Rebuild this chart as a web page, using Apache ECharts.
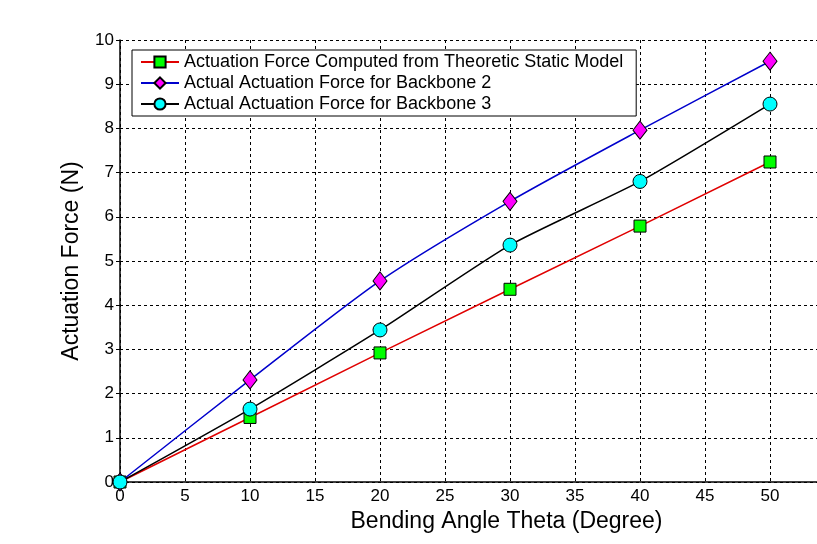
<!DOCTYPE html>
<html>
<head>
<meta charset="utf-8">
<script src="https://cdn.jsdelivr.net/npm/echarts@6/dist/echarts.min.js"></script>
<style>
  html, body { margin: 0; padding: 0; background: #fff; overflow: hidden; }
  #chart { width: 817px; height: 544px; }
</style>
</head>
<body>
<div id="chart"></div>
<script>
// bending angle (degree)
const angles = [0, 10, 20, 30, 40, 50];
// forces (N)
const theoreticForce = [0, 1.46, 2.92, 4.36, 5.79, 7.24];
const backbone2Force = [0, 2.31, 4.55, 6.35, 7.96, 9.52];
const backbone3Force = [0, 1.65, 3.44, 5.36, 6.8, 8.55];

const seriesNames = [
  "Actuation Force Computed from Theoretic Static Model",
  "Actual Actuation Force for Backbone 2",
  "Actual Actuation Force for Backbone 3",
];

const toPairs = (vals) => angles.map((a, i) => [a, vals[i]]);

const chart = echarts.init(document.getElementById("chart"));
const font = "Liberation Sans, Arial, Helvetica, sans-serif";
const gridLine = {
  show: true,
  lineStyle: { color: "#000", type: [3, 3], width: 1 },
};

chart.setOption({
  animation: false,
  backgroundColor: "#fff",
  textStyle: { fontFamily: font },
  // plot runs past the right edge of the picture
  grid: { left: 120, top: 40, bottom: 62, width: 715, outerBoundsMode: "none" },
  legend: {
    orient: "vertical",
    left: 132,
    top: 50,
    padding: [3, 13, 3, 8],
    itemGap: 3,
    itemWidth: 38,
    itemHeight: 14,
    backgroundColor: "#fff",
    borderColor: "#000",
    borderWidth: 1,
    borderRadius: 0,
    textStyle: { fontFamily: font, fontSize: 18, color: "#000" },
    data: seriesNames,
  },
  xAxis: {
    type: "value",
    min: 0,
    max: 55,
    interval: 5,
    name: "Bending Angle Theta (Degree)",
    nameLocation: "middle",
    nameGap: 24,
    nameTextStyle: { fontSize: 23, color: "#000", fontFamily: font, padding: [0, 0, 0, 58] },
    axisLine: { show: true, lineStyle: { color: "#000", width: 1.5 } },
    axisTick: { show: false },
    axisLabel: { color: "#000", fontSize: 17, margin: 6, showMaxLabel: false },
    splitLine: gridLine,
  },
  yAxis: {
    type: "value",
    min: 0,
    max: 10,
    interval: 1,
    name: "Actuation Force (N)",
    nameLocation: "middle",
    nameGap: 37,
    nameTextStyle: { fontSize: 23, color: "#000", fontFamily: font },
    axisLine: { show: true, lineStyle: { color: "#000", width: 1.5 } },
    axisTick: { show: true, inside: false, length: 4, lineStyle: { color: "#000" } },
    axisLabel: { color: "#000", fontSize: 17, margin: 6 },
    splitLine: gridLine,
  },
  series: [
    {
      name: seriesNames[0],
      type: "line",
      data: toPairs(theoreticForce),
      lineStyle: { color: "#e00000", width: 1.5 },
      symbol: "rect",
      symbolSize: 12,
      itemStyle: { color: "#00ff00", borderColor: "#000", borderWidth: 1 },
      z: 3,
    },
    {
      name: seriesNames[1],
      type: "line",
      data: toPairs(backbone2Force),
      smooth: 0.25,
      lineStyle: { color: "#0000cc", width: 1.5 },
      symbol: "diamond",
      symbolSize: [14, 18],
      itemStyle: { color: "#ff00ff", borderColor: "#000", borderWidth: 1 },
      z: 4,
    },
    {
      name: seriesNames[2],
      type: "line",
      data: toPairs(backbone3Force),
      smooth: 0.2,
      lineStyle: { color: "#000", width: 1.5 },
      symbol: "circle",
      symbolSize: 14,
      itemStyle: { color: "#00ffff", borderColor: "#000", borderWidth: 1 },
      z: 5,
    },
  ],
});
</script>
</body>
</html>
